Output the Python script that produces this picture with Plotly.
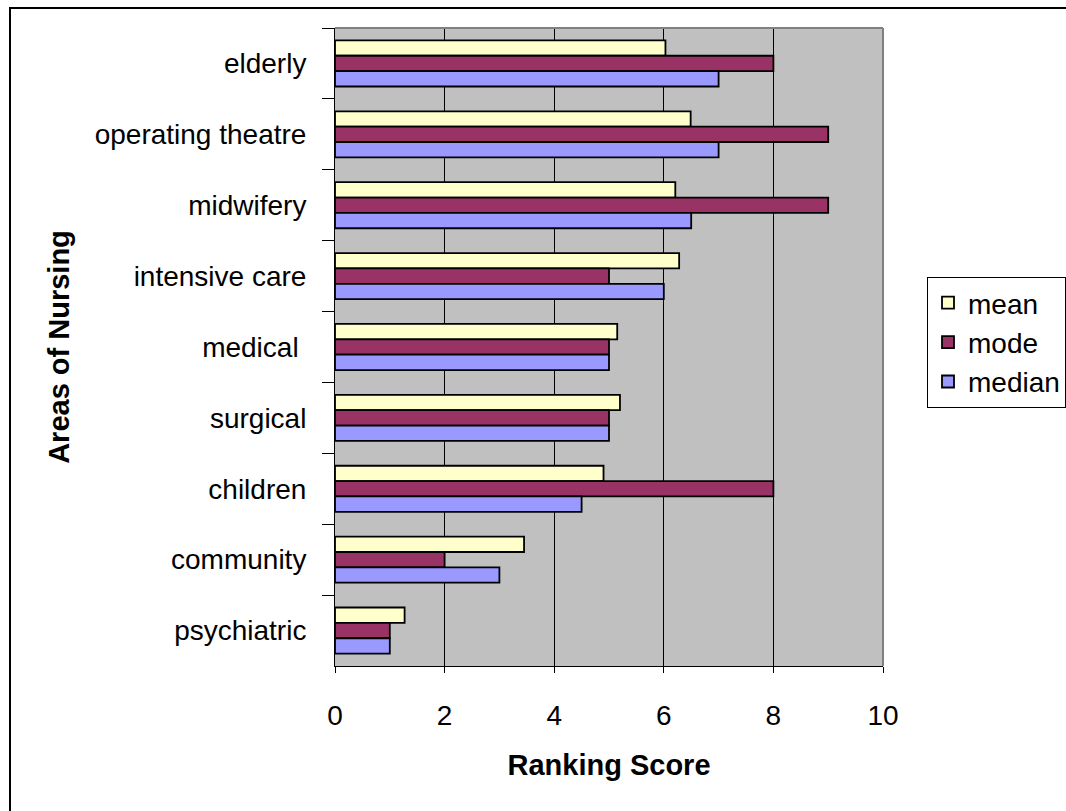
import plotly.graph_objects as go

# Areas of nursing, listed top to bottom
areas = ["elderly", "operating theatre", "midwifery", "intensive care",
         "medical ", "surgical", "children", "community", "psychiatric"]

mean_scores = [6.03, 6.49, 6.21, 6.28, 5.15, 5.2, 4.9, 3.45, 1.27]
mode_scores = [8, 9, 9, 5, 5, 5, 8, 2, 1]
median_scores = [7, 7, 6.5, 6, 5, 5, 4.5, 3, 1]

series = [
    ("mean", mean_scores, "#FFFFCC"),
    ("mode", mode_scores, "#993366"),
    ("median", median_scores, "#9999FF"),
]

W, H = 1066, 811
L, R, T, B = 335, 883, 28, 666  # plot area in pixels
FS = 28

fig = go.Figure()
for name, vals, color in series:
    fig.add_trace(go.Bar(
        name=name, y=areas, x=vals, orientation="h",
        marker=dict(color=color, line=dict(color="black", width=1.8)),
    ))

font = "Liberation Sans, Arial, sans-serif"

def px_x(p):
    return (p - L) / (R - L)

def px_y(p):
    return (B - p) / (B - T)

fig.update_layout(
    width=W, height=H,
    margin=dict(l=L, r=W - R, t=T, b=H - B, pad=0, autoexpand=False),
    paper_bgcolor="white",
    plot_bgcolor="#C0C0C0",
    barmode="group",
    bargap=0.35,
    bargroupgap=0,
    font=dict(family=font, size=FS, color="black"),
    showlegend=True,
    legend=dict(
        x=px_x(927), y=px_y(277), xanchor="left", yanchor="top",
        bgcolor="white", bordercolor="black", borderwidth=1,
        font=dict(family=font, size=FS), tracegroupgap=0,
        itemwidth=30,
    ),
    xaxis=dict(
        range=[0, 10], dtick=2, tick0=0,
        showgrid=True, gridcolor="black", gridwidth=1,
        ticks="outside", ticklen=6, tickcolor="black",
        showline=True, linecolor="black", linewidth=1,
        zeroline=False,
        tickfont=dict(family=font, size=FS),
        ticklabelstandoff=18,
        title=dict(text="<b>Ranking Score</b>", font=dict(family=font, size=29), standoff=25),
    ),
    yaxis=dict(
        autorange="reversed",
        ticks="outside", ticklen=12, tickcolor="black", tickson="boundaries",
        showline=True, linecolor="black", linewidth=1,
        showgrid=False,
        tickfont=dict(family=font, size=FS),
        ticklabelstandoff=22,
        title=dict(text="<b>Areas of Nursing</b>", font=dict(family=font, size=29), standoff=16),
    ),
    shapes=[
        # right and top edges of the plot area
        dict(type="line", xref="paper", yref="paper", x0=0, x1=1, y0=1, y1=1,
             line=dict(color="#808080", width=2)),
        dict(type="line", xref="paper", yref="paper", x0=1, x1=1, y0=0, y1=1,
             line=dict(color="#808080", width=2)),
        # outer frame around the chart
        dict(type="rect", xref="paper", yref="paper",
             x0=px_x(10), x1=px_x(W + 20), y0=px_y(H + 20), y1=px_y(8),
             line=dict(color="black", width=2), layer="below"),
    ],
)

fig.write_html("out.html")
